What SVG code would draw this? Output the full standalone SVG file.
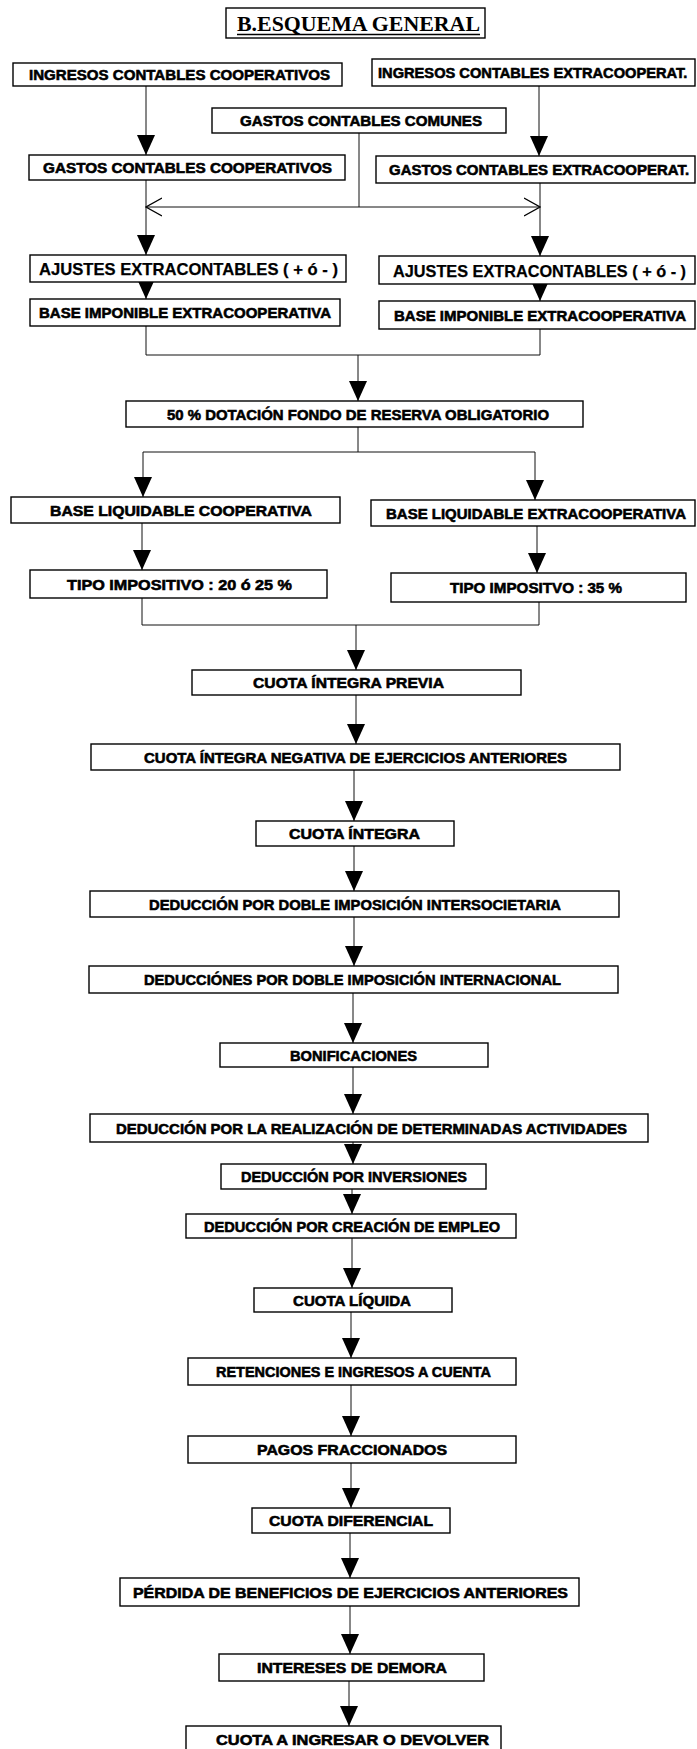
<svg xmlns="http://www.w3.org/2000/svg" width="697" height="1749" viewBox="0 0 697 1749">
<style>
.bx{fill:#fff;stroke:#000;stroke-width:1.4}
.t{font-family:"Liberation Sans",Arial,sans-serif;font-weight:bold;font-size:15.5px;fill:#000;stroke:#000;stroke-width:0.6}
.ta{font-family:"Liberation Sans",Arial,sans-serif;font-weight:bold;font-size:17px;fill:#000;stroke:#000;stroke-width:0.25}
.title{font-family:"Liberation Serif","Times New Roman",serif;font-weight:bold;font-size:21px;fill:#000}
.c{fill:none;stroke:#111;stroke-width:1}
</style>
<defs>
<marker id="ah" viewBox="0 0 20 18" refX="20" refY="9" markerWidth="20" markerHeight="18" markerUnits="userSpaceOnUse" orient="auto"><path d="M0,0 L20,9 L0,18 z" fill="#000"/></marker>
<marker id="oa" viewBox="0 0 17 20" refX="16" refY="10" markerWidth="17" markerHeight="20" markerUnits="userSpaceOnUse" orient="auto"><path d="M0,1 L16,10 L0,19" fill="none" stroke="#000" stroke-width="1.2"/></marker>
</defs>
<rect width="697" height="1749" fill="#fff"/>

<g id="connectors">
<path class="c" d="M146,86 V155" marker-end="url(#ah)"/>
<path class="c" d="M539,86 V156" marker-end="url(#ah)"/>
<path class="c" d="M359,133 V207"/>
<path class="c" d="M359,207 H146" marker-end="url(#oa)"/>
<path class="c" d="M359,207 H540" marker-end="url(#oa)"/>
<path class="c" d="M146,180 V255" marker-end="url(#ah)"/>
<path class="c" d="M540,183 V256" marker-end="url(#ah)"/>
<path class="c" d="M146,282 V299" marker-end="url(#ah)"/>
<path class="c" d="M540,284 V301" marker-end="url(#ah)"/>
<path class="c" d="M146,326 V355 H540 V329"/>
<path class="c" d="M358,355 V401" marker-end="url(#ah)"/>
<path class="c" d="M358,427 V452"/>
<path class="c" d="M143,452 H535"/>
<path class="c" d="M143,452 V497" marker-end="url(#ah)"/>
<path class="c" d="M535,452 V500" marker-end="url(#ah)"/>
<path class="c" d="M142,523 V570" marker-end="url(#ah)"/>
<path class="c" d="M537,526 V573" marker-end="url(#ah)"/>
<path class="c" d="M142,598 V625 H539 V602"/>
<path class="c" d="M356,625 V670" marker-end="url(#ah)"/>
<path class="c" d="M356,695 V744" marker-end="url(#ah)"/>
<path class="c" d="M354,770 V821" marker-end="url(#ah)"/>
<path class="c" d="M354,846 V891" marker-end="url(#ah)"/>
<path class="c" d="M354,917 V966" marker-end="url(#ah)"/>
<path class="c" d="M353,993 V1043" marker-end="url(#ah)"/>
<path class="c" d="M353,1067 V1114" marker-end="url(#ah)"/>
<path class="c" d="M353,1142 V1164" marker-end="url(#ah)"/>
<path class="c" d="M352,1189 V1214" marker-end="url(#ah)"/>
<path class="c" d="M352,1238 V1288" marker-end="url(#ah)"/>
<path class="c" d="M351,1312 V1358" marker-end="url(#ah)"/>
<path class="c" d="M351,1385 V1436" marker-end="url(#ah)"/>
<path class="c" d="M351,1463 V1508" marker-end="url(#ah)"/>
<path class="c" d="M350,1533 V1578" marker-end="url(#ah)"/>
<path class="c" d="M350,1606 V1654" marker-end="url(#ah)"/>
<path class="c" d="M349,1681 V1726" marker-end="url(#ah)"/>
</g>

<g id="title">
<rect class="bx" x="226" y="8" width="259" height="30"/>
<text class="title" x="237" y="31" textLength="243" lengthAdjust="spacingAndGlyphs">B.ESQUEMA GENERAL</text>
<line x1="237" y1="34.5" x2="480" y2="34.5" stroke="#000" stroke-width="1.3"/>
</g>

<g id="ingresos-coop"><rect class="bx" x="13" y="63" width="329" height="23"/><text class="t" x="29" y="80" textLength="301" lengthAdjust="spacingAndGlyphs">INGRESOS CONTABLES COOPERATIVOS</text></g>
<g id="ingresos-extra"><rect class="bx" x="372" y="59" width="323" height="27"/><text class="t" transform="translate(378,78) scale(0.85,1)" x="0" y="0" textLength="364" lengthAdjust="spacingAndGlyphs">INGRESOS CONTABLES EXTRACOOPERAT.</text></g>
<g id="gastos-comunes"><rect class="bx" x="212" y="108" width="294" height="25"/><text class="t" x="240" y="126" textLength="242" lengthAdjust="spacingAndGlyphs">GASTOS CONTABLES COMUNES</text></g>
<g id="gastos-coop"><rect class="bx" x="29" y="155" width="316" height="25"/><text class="t" x="43" y="173" textLength="289" lengthAdjust="spacingAndGlyphs">GASTOS CONTABLES COOPERATIVOS</text></g>
<g id="gastos-extra"><rect class="bx" x="376" y="156" width="319" height="27"/><text class="t" transform="translate(389,175) scale(0.88,1)" x="0" y="0" textLength="341" lengthAdjust="spacingAndGlyphs">GASTOS CONTABLES EXTRACOOPERAT.</text></g>
<g id="ajustes-coop"><rect class="bx" x="30" y="255" width="316" height="27"/><text class="ta" x="39" y="275" textLength="299" lengthAdjust="spacingAndGlyphs">AJUSTES EXTRACONTABLES ( + ó - )</text></g>
<g id="ajustes-extra"><rect class="bx" x="379" y="256" width="316" height="28"/><text class="ta" x="393" y="276.5" textLength="293" lengthAdjust="spacingAndGlyphs">AJUSTES EXTRACONTABLES ( + ó - )</text></g>
<g id="base-imponible-coop"><rect class="bx" x="30" y="299" width="310" height="27"/><text class="t" x="39" y="318" textLength="292" lengthAdjust="spacingAndGlyphs">BASE IMPONIBLE EXTRACOOPERATIVA</text></g>
<g id="base-imponible-extra"><rect class="bx" x="379" y="301" width="316" height="28"/><text class="t" x="394" y="320.5" textLength="292" lengthAdjust="spacingAndGlyphs">BASE IMPONIBLE EXTRACOOPERATIVA</text></g>
<g id="dotacion"><rect class="bx" x="126" y="401" width="457" height="26"/><text class="t" x="167" y="419.5" textLength="382" lengthAdjust="spacingAndGlyphs">50 % DOTACIÓN FONDO DE RESERVA OBLIGATORIO</text></g>
<g id="base-liquidable-coop"><rect class="bx" x="11" y="497" width="329" height="26"/><text class="t" x="50" y="515.5" textLength="262" lengthAdjust="spacingAndGlyphs">BASE LIQUIDABLE COOPERATIVA</text></g>
<g id="base-liquidable-extra"><rect class="bx" x="371" y="500" width="324" height="26"/><text class="t" x="386" y="518.5" textLength="300" lengthAdjust="spacingAndGlyphs">BASE LIQUIDABLE EXTRACOOPERATIVA</text></g>
<g id="tipo-coop"><rect class="bx" x="30" y="570" width="297" height="28"/><text class="t" x="67" y="589.5" textLength="225" lengthAdjust="spacingAndGlyphs">TIPO IMPOSITIVO : 20 ó 25 %</text></g>
<g id="tipo-extra"><rect class="bx" x="391" y="573" width="295" height="29"/><text class="t" x="450" y="593" textLength="172" lengthAdjust="spacingAndGlyphs">TIPO IMPOSITVO : 35 %</text></g>
<g id="cuota-integra-previa"><rect class="bx" x="192" y="670" width="329" height="25"/><text class="t" x="253" y="688" textLength="191" lengthAdjust="spacingAndGlyphs">CUOTA ÍNTEGRA PREVIA</text></g>
<g id="cuota-negativa"><rect class="bx" x="91" y="744" width="529" height="26"/><text class="t" x="144" y="762.5" textLength="423" lengthAdjust="spacingAndGlyphs">CUOTA ÍNTEGRA NEGATIVA DE EJERCICIOS ANTERIORES</text></g>
<g id="cuota-integra"><rect class="bx" x="256" y="821" width="198" height="25"/><text class="t" x="289" y="839" textLength="131" lengthAdjust="spacingAndGlyphs">CUOTA ÍNTEGRA</text></g>
<g id="ded-intersocietaria"><rect class="bx" x="90" y="891" width="529" height="26"/><text class="t" x="149" y="909.5" textLength="412" lengthAdjust="spacingAndGlyphs">DEDUCCIÓN POR DOBLE IMPOSICIÓN INTERSOCIETARIA</text></g>
<g id="ded-internacional"><rect class="bx" x="89" y="966" width="529" height="27"/><text class="t" x="144" y="985" textLength="417" lengthAdjust="spacingAndGlyphs">DEDUCCIÓNES POR DOBLE IMPOSICIÓN INTERNACIONAL</text></g>
<g id="bonificaciones"><rect class="bx" x="220" y="1043" width="268" height="24"/><text class="t" x="290" y="1060.5" textLength="127" lengthAdjust="spacingAndGlyphs">BONIFICACIONES</text></g>
<g id="ded-actividades"><rect class="bx" x="90" y="1114" width="558" height="28"/><text class="t" x="116" y="1133.5" textLength="511" lengthAdjust="spacingAndGlyphs">DEDUCCIÓN POR LA REALIZACIÓN DE DETERMINADAS ACTIVIDADES</text></g>
<g id="ded-inversiones"><rect class="bx" x="221" y="1164" width="265" height="25"/><text class="t" x="241" y="1182" textLength="226" lengthAdjust="spacingAndGlyphs">DEDUCCIÓN POR INVERSIONES</text></g>
<g id="ded-empleo"><rect class="bx" x="186" y="1214" width="330" height="24"/><text class="t" x="204" y="1231.5" textLength="296" lengthAdjust="spacingAndGlyphs">DEDUCCIÓN POR CREACIÓN DE EMPLEO</text></g>
<g id="cuota-liquida"><rect class="bx" x="254" y="1288" width="198" height="24"/><text class="t" x="293" y="1305.5" textLength="118" lengthAdjust="spacingAndGlyphs">CUOTA LÍQUIDA</text></g>
<g id="retenciones"><rect class="bx" x="188" y="1358" width="328" height="27"/><text class="t" x="216" y="1377" textLength="275" lengthAdjust="spacingAndGlyphs">RETENCIONES E INGRESOS A CUENTA</text></g>
<g id="pagos"><rect class="bx" x="188" y="1436" width="328" height="27"/><text class="t" x="257" y="1455" textLength="190" lengthAdjust="spacingAndGlyphs">PAGOS FRACCIONADOS</text></g>
<g id="cuota-diferencial"><rect class="bx" x="252" y="1508" width="198" height="25"/><text class="t" x="269" y="1526" textLength="164" lengthAdjust="spacingAndGlyphs">CUOTA DIFERENCIAL</text></g>
<g id="perdida"><rect class="bx" x="120" y="1578" width="459" height="28"/><text class="t" x="133" y="1597.5" textLength="435" lengthAdjust="spacingAndGlyphs">PÉRDIDA DE BENEFICIOS DE EJERCICIOS ANTERIORES</text></g>
<g id="intereses"><rect class="bx" x="219" y="1654" width="265" height="27"/><text class="t" x="257" y="1673" textLength="190" lengthAdjust="spacingAndGlyphs">INTERESES DE DEMORA</text></g>
<g id="cuota-final"><rect class="bx" x="186" y="1726" width="315" height="30"/><text class="t" x="216" y="1744.5" textLength="273" lengthAdjust="spacingAndGlyphs">CUOTA A INGRESAR O DEVOLVER</text></g>
</svg>
